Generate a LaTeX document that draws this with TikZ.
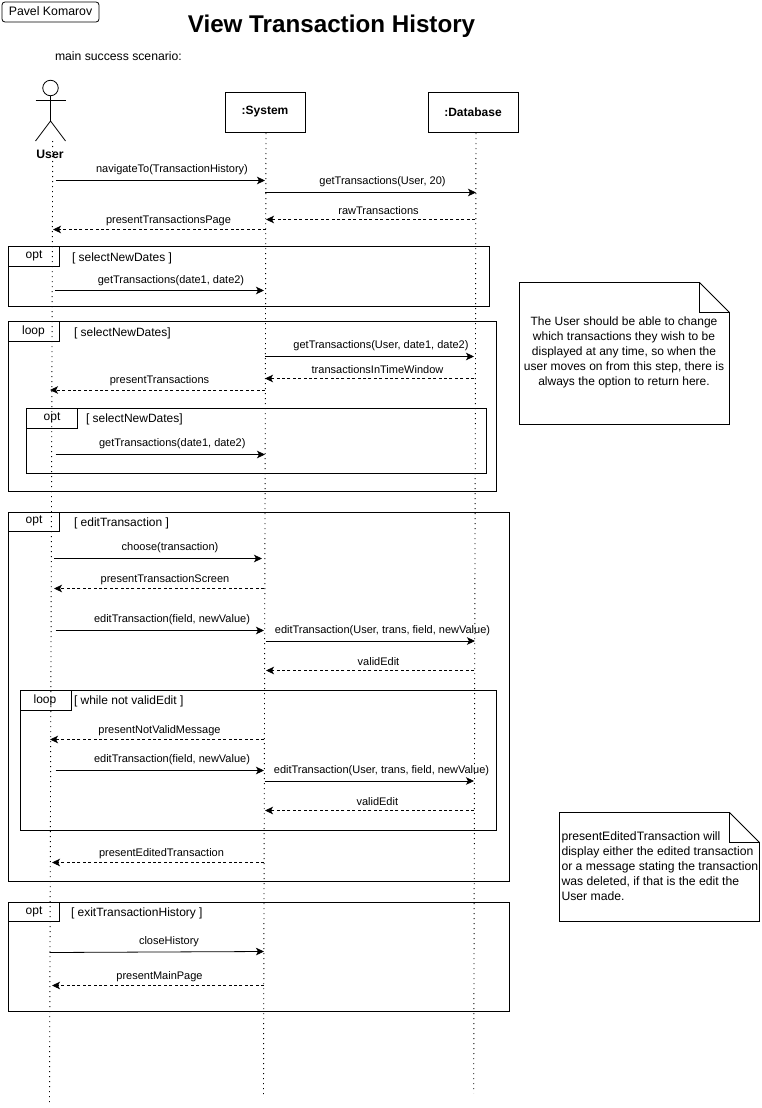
\documentclass[tikz,border=0pt]{standalone}
\usepackage{fontspec}
\setmainfont{Liberation Sans}
\usetikzlibrary{arrows.meta,calc}
\tikzset{
 x=1pt,y=-1pt,
 every node/.style={font=\fontsize{12}{14}\selectfont,text=black,inner sep=0pt,outer sep=0pt},
 line/.style={draw=black,line width=0.8pt},
 sync/.style={line,-{Stealth[length=8pt,width=7.5pt,inset=2pt]}},
 reply/.style={sync,dash pattern=on 3pt off 2.4pt},
 life/.style={draw=black,line width=0.9pt,dash pattern=on 1pt off 4pt},
 frame/.style={line},
 lbl/.style={anchor=center,font=\fontsize{11}{13}\selectfont,yshift=-1.2pt},
 tab/.style={anchor=center,yshift=-1pt},
 guard/.style={anchor=west,yshift=-1.2pt},
 participant/.style={line},
 notebox/.style={line},
 notetext/.style={align=center,font=\fontsize{12}{15}\selectfont},
}
% \msg{style}{name}{x1}{y1}{x2}{y2}{label}{lx}{ly}
\newcommand{\msg}[9]{%
 \coordinate (#2a) at (#3,#4);
 \coordinate (#2b) at (#5,#6);
 \draw[#1] (#2a) -- (#2b);
 \node[lbl] (#2l) at (#8,#9) {#7};
}
\newcommand{\frm}[9]{%
 \draw[frame] (#2,#3) rectangle (#4,#5);
 \draw[frame] (#2,#6) -| (#7,#3);
 \node[tab] at (#8,#9) {#1};
}
\begin{document}
\begin{tikzpicture}
\useasboundingbox (0,0) rectangle (761,1108);
% header
\node[draw=black,line width=0.8pt,rounded corners=3pt,minimum width=97pt,minimum height=20pt] (author) at (50.5,12) {};
\node[font=\fontsize{12.3}{14}\selectfont] at (50.5,11) {Pavel Komarov};
\node[font=\fontsize{24.2}{28}\selectfont\bfseries] (title) at (331.5,26) {View Transaction History};
\node[anchor=west,font=\fontsize{12.2}{14}\selectfont] (scen) at (55,56.5) {main success scenario:};
% lifelines
\coordinate (utop) at (52.7,141); \coordinate (ubot) at (49.5,1102);
\coordinate (stop) at (266,133); \coordinate (sbot) at (263.5,1095);
\coordinate (dtop) at (476,133); \coordinate (dbot) at (473.7,1093);
\draw[life] (utop) -- (ubot);
\draw[life] (stop) -- (sbot);
\draw[life] (dtop) -- (dbot);
% actor
\node[draw=black,line width=0.8pt,circle,minimum size=15.5pt] (head) at (50.5,88) {};
\coordinate (hip) at (50.5,121);
\coordinate (arml) at (35.5,100); \coordinate (armr) at (65.5,100);
\coordinate (legl) at (35.5,141); \coordinate (legr) at (65.5,141);
\draw[line] (head) -- (hip);
\draw[line] (arml) -- (armr);
\draw[line] (legl) -- (hip) -- (legr);
\node[font=\fontsize{12.2}{14}\selectfont\bfseries] (user) at (50,154.5) {User};
% participants
\node[participant,draw,minimum width=79.5pt,minimum height=40pt] (sys) at (265.5,112.5) {};
\node[font=\fontsize{12}{14}\selectfont\bfseries] at (265,111.8) {:System};
\node[participant,draw,minimum width=90pt,minimum height=40pt] (db) at (473,112.5) {};
\node[font=\fontsize{12}{14}\selectfont\bfseries] at (473,111.8) {:Database};
% messages
\msg{sync}{m1}{55.5}{180.5}{265}{180.5}{navigateTo(TransactionHistory)}{172}{168.5}
\msg{sync}{m2}{265}{192.5}{476}{192.5}{getTransactions(User, 20)}{382.5}{180.5}
\msg{reply}{m3}{475}{219.5}{266}{219.5}{rawTransactions}{378.5}{209.5}
\msg{reply}{m4}{266}{229.5}{53}{229.5}{presentTransactionsPage}{168.5}{219.5}
% opt 1
\frm{opt}{8.5}{246.5}{489.5}{306}{266.5}{59.5}{34}{255}
\node[guard] at (72,257) {[ selectNewDates ]};
\msg{sync}{m5}{54.5}{290.5}{264}{290.5}{getTransactions(date1, date2)}{171}{279}
% loop 1
\frm{loop}{8.5}{321.5}{496.5}{491}{341.5}{59}{33.5}{330}
\node[guard] at (74,332) {[ selectNewDates]};
\msg{sync}{m6}{265}{356.5}{474}{356.5}{getTransactions(User, date1, date2)}{381}{344.5}
\msg{reply}{m7}{474}{378.5}{265}{378.5}{transactionsInTimeWindow}{377.5}{368.5}
\msg{reply}{m8}{265}{390}{50}{390}{presentTransactions}{159.5}{379.5}
% inner opt
\draw[frame] (26.5,408.5) rectangle (486.5,473.5);
\draw[frame] (26.5,428.5) -| (77.5,408.5);
\node[tab] (optinner) at (52,416.5) {opt};
\node[guard] at (86,418) {[ selectNewDates]};
\msg{sync}{m9}{55.5}{454.5}{265}{454.5}{getTransactions(date1, date2)}{172.3}{442.5}
% opt edit
\frm{opt}{8.5}{512.5}{509.5}{881}{531.5}{59.5}{34}{520}
\node[guard] at (74,522) {[ editTransaction ]};
\msg{sync}{m10}{54}{558.5}{262}{558.5}{choose(transaction)}{170}{546.5}
\msg{reply}{m11}{264}{588.5}{54}{588.5}{presentTransactionScreen}{165}{578.5}
\msg{sync}{m12}{55.5}{630.5}{264}{630.5}{editTransaction(field, newValue)}{172}{618.5}
\msg{sync}{m13}{265.5}{641}{475}{641}{editTransaction(User, trans, field, newValue)}{382.5}{629.5}
\msg{reply}{m14}{474}{670.5}{266}{670.5}{validEdit}{378.5}{660.5}
% loop while
\frm{loop}{20.5}{690.5}{496}{830.5}{710.5}{71}{45}{699}
\node[guard] at (74,700) {[ while not validEdit ]};
\msg{reply}{m15}{264}{739.5}{50}{739.5}{presentNotValidMessage}{159.5}{729.5}
\msg{sync}{m16}{55.5}{770.5}{264}{770.5}{editTransaction(field, newValue)}{172}{758.5}
\msg{sync}{m17}{264.5}{781}{474}{781}{editTransaction(User, trans, field, newValue)}{381.5}{769.5}
\msg{reply}{m18}{474}{810.5}{265}{810.5}{validEdit}{377.3}{800.5}
\msg{reply}{m19}{264}{862.5}{52}{862.5}{presentEditedTransaction}{161.5}{852.5}
% opt exit
\frm{opt}{8.5}{902.5}{509.5}{1011.5}{921.5}{59.5}{34}{910.5}
\node[guard] at (71,912) {[ exitTransactionHistory ]};
\msg{sync}{m20}{49.5}{952.5}{264}{951.5}{closeHistory}{169}{940.5}
\msg{reply}{m21}{264}{985.5}{52}{985.5}{presentMainPage}{159.5}{975.5}
% notes
\draw[notebox] (519.5,282.5) -- (699.5,282.5) -- (729.5,312.5) -- (729.5,424.5) -- (519.5,424.5) -- cycle;
\draw[notebox] (699.5,282.5) |- (729.5,312.5);
\node[notetext] (note1) at (624,352.5) {The User should be able to change\\which transactions they wish to be\\displayed at any time, so when the\\user moves on from this step, there is\\always the option to return here.};
\draw[notebox] (559.5,812.5) -- (729.5,812.5) -- (759.5,842.5) -- (759.5,921.5) -- (559.5,921.5) -- cycle;
\draw[notebox] (729.5,812.5) |- (759.5,842.5);
\node[notetext,align=left,anchor=west,font=\fontsize{12.2}{15}\selectfont] (note2) at (561.5,866) {presentEditedTransaction will\\display either the edited transaction\\or a message stating the transaction\\was deleted, if that is the edit the\\User made.};
\end{tikzpicture}
\end{document}
